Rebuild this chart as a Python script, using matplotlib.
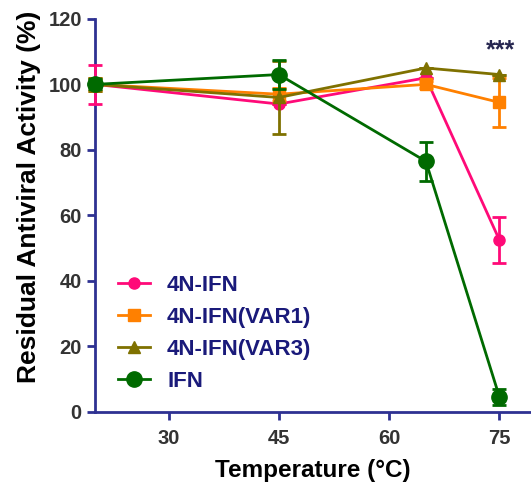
import matplotlib
matplotlib.use("Agg")
import matplotlib.pyplot as plt

plt.rcParams['font.family'] = ['Liberation Sans', 'DejaVu Sans']
plt.rcParams['font.weight'] = 'bold'

temps = [20, 45, 65, 75]

ifn4n = [100, 94, 102, 52.5]
ifn4n_err = [6, 0, 0, 7]
var1 = [100, 97, 100, 94.5]
var1_err = [2, 2, 1, 7.5]
var3 = [100, 96, 105, 103]
var3_err = [2, 11, 0, 0]
ifn = [100, 103, 76.5, 4.6]
ifn_err = [1.5, 4.5, 6, 2.5]

navy = '#2e3192'

fig = plt.figure(figsize=(5.31, 4.84), dpi=100)
ax = fig.add_axes([0.179, 0.149, 0.821, 0.812])

series = [
    ('4N-IFN', ifn4n, ifn4n_err, '#ff0a78', 'o', 8),
    ('4N-IFN(VAR1)', var1, var1_err, '#ff8000', 's', 8),
    ('4N-IFN(VAR3)', var3, var3_err, '#7f7100', '^', 8),
    ('IFN', ifn, ifn_err, '#006a00', 'o', 11),
]
handles = []
for i, (name, vals, errs, col, mk, ms) in enumerate(series):
    c = ax.errorbar(temps, vals, yerr=errs, color=col, marker=mk, markersize=ms,
                    linewidth=2, elinewidth=2, capsize=5, capthick=2,
                    label=name, zorder=3 + i, clip_on=False)
    handles.append(c[0])

ax.text(75.2, 110.5, '***', ha='center', va='center', fontsize=18,
        color='#262650', fontweight='bold')

ax.set_xlim(20.0, 79.3)
ax.set_ylim(0, 120)
ax.set_xticks([30, 45, 60, 75])
ax.set_yticks(range(0, 121, 20))

for s in ['top', 'right']:
    ax.spines[s].set_visible(False)
for s in ['left', 'bottom']:
    ax.spines[s].set_color(navy)
    ax.spines[s].set_linewidth(2)
ax.tick_params(direction='out', length=6, width=2, color=navy,
               labelsize=14.5, labelcolor='#333333')
ax.tick_params(axis='x', pad=6)

ax.set_xlabel('Temperature (°C)', fontsize=17.5, fontweight='bold',
              color='black', labelpad=8)
ax.set_ylabel('Residual Antiviral Activity (%)', fontsize=19,
              fontweight='bold', color='black')
ax.yaxis.set_label_coords(-0.124, 0.547)

leg = ax.legend(handles=handles, labels=[s[0] for s in series],
                loc='lower left', bbox_to_anchor=(0.053, 0.05),
                borderaxespad=0, borderpad=0, frameon=False,
                fontsize=16, handlelength=1.45, handletextpad=0.75,
                labelspacing=0.5)
for t in leg.get_texts():
    t.set_color('#1a1a7a')

fig.savefig('out.png', dpi=100)
